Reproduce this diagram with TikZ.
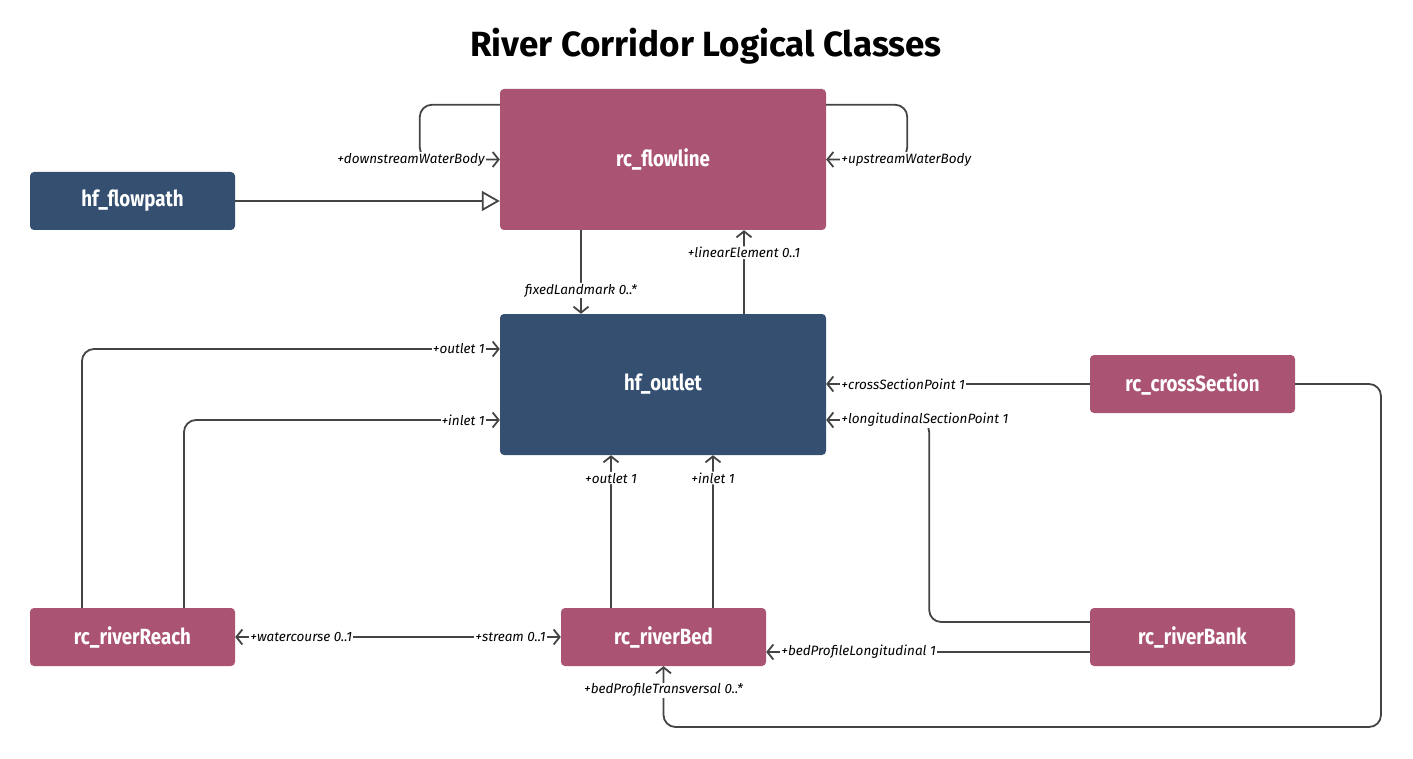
\documentclass[tikz,border=0pt]{standalone}
\usepackage{fontspec}
\setmainfont{Fira Sans}
\newfontfamily\boxfont[FakeStretch=0.85]{Fira Sans}
\newfontfamily\lblfont{Fira Sans}
\newfontfamily\titlefont{Fira Sans}
\usetikzlibrary{arrows.meta}
\definecolor{pinkc}{HTML}{AA5373}
\definecolor{bluec}{HTML}{344F70}
\definecolor{linec}{HTML}{444444}
\begin{document}
\begin{tikzpicture}[x=1pt,y=-1pt,
  cls/.style={rounded corners=4pt, inner sep=0pt, text=white, font=\boxfont\bfseries\fontsize{22}{26}\selectfont},
  pinkcls/.style={cls, fill=pinkc},
  bluecls/.style={cls, fill=bluec},
  bigbox/.style={minimum width=326pt, minimum height=141pt},
  smallbox/.style={minimum width=205pt, minimum height=58pt},
  conn/.style={draw=linec, line width=1.8pt, rounded corners=12pt},
  arr/.style={-{Straight Barb[length=6pt,width=15pt]}},
  lbl/.style={fill=white, inner sep=1pt, text=black, font=\lblfont\itshape\fontsize{13.5}{16}\selectfont}
]
\useasboundingbox (0,0) rectangle (1413,759);
\node[font=\titlefont\bfseries\fontsize{35}{40}\selectfont] (title) at (706,46) {River Corridor Logical Classes};

\node[pinkcls, bigbox] (flowline) at (663,159.5) {rc\_flowline};
\node[bluecls, smallbox] (flowpath) at (132.5,201) {hf\_flowpath};
\node[bluecls, bigbox] (outlet) at (663,384.5) {hf\_outlet};
\node[pinkcls, smallbox] (crossSection) at (1192.5,384) {rc\_crossSection};
\node[pinkcls, smallbox] (riverReach) at (132.5,637) {rc\_riverReach};
\node[pinkcls, smallbox] (riverBed) at (663.5,637) {rc\_riverBed};
\node[pinkcls, smallbox] (riverBank) at (1192.5,637) {rc\_riverBank};

% self associations of rc_flowline
\draw[conn,arr] ([yshift=-16pt]flowline.north west) -| ([xshift=-80pt]flowline.west) -- (flowline.west);
\node[lbl, anchor=east] (l1) at ([xshift=-14pt]flowline.west) {+downstreamWaterBody};
\draw[conn,arr] ([yshift=-16pt]flowline.north east) -| ([xshift=81pt]flowline.east) -- (flowline.east);
\node[lbl, anchor=west] (l2) at ([xshift=14pt]flowline.east) {+upstreamWaterBody};

% generalization
\draw[conn, -{Triangle[open, length=18pt, width=20pt, fill=white]}] (flowpath.east) -- (flowpath.east -| flowline.west);

% flowline <-> outlet
\draw[conn,arr] ([xshift=-82pt]flowline.south) -- node[lbl, pos=0.72] (l3) {fixedLandmark 0..*} ([xshift=-82pt]outlet.north);
\draw[conn,arr] ([xshift=81pt]outlet.north) -- node[lbl, pos=0.73] (l4) {+linearElement 0..1} ([xshift=81pt]flowline.south);

% riverReach -> outlet
\draw[conn,arr] ([xshift=-50.5pt]riverReach.north) |- ([yshift=35.5pt]outlet.west);
\node[lbl, anchor=east] (l5) at ([xshift=-14pt,yshift=35.5pt]outlet.west) {+outlet 1};
\draw[conn,arr] ([xshift=51.5pt]riverReach.north) |- ([yshift=-35.5pt]outlet.west);
\node[lbl, anchor=east] (l6) at ([xshift=-14pt,yshift=-35.5pt]outlet.west) {+inlet 1};

% riverBed -> outlet
\draw[conn,arr] ([xshift=-52.5pt]riverBed.north) -- node[lbl, pos=0.85] (l7) {+outlet 1} ([xshift=-52pt]outlet.south);
\draw[conn,arr] ([xshift=49.5pt]riverBed.north) -- node[lbl, pos=0.85] (l8) {+inlet 1} ([xshift=50pt]outlet.south);

% crossSection -> outlet
\draw[conn,arr] (crossSection.west) -- (crossSection.west -| outlet.east);
\node[lbl, anchor=west] (l9) at ([xshift=14pt]crossSection.west -| outlet.east) {+crossSectionPoint 1};

% riverBank -> outlet
\draw[conn,arr] ([yshift=15pt]riverBank.west) -| ([xshift=103pt,yshift=-35.5pt]outlet.east) -- ([yshift=-35.5pt]outlet.east);
\node[lbl, anchor=west] (l10) at ([xshift=14pt,yshift=-35.5pt]outlet.east) {+longitudinalSectionPoint 1};

% riverBank -> riverBed
\draw[conn,arr] ([yshift=-15pt]riverBank.west) -- ([yshift=-15pt]riverBed.east);
\node[lbl, anchor=west] (l11) at ([xshift=14pt,yshift=-15pt]riverBed.east) {+bedProfileLongitudinal 1};

% crossSection -> riverBed
\coordinate (tr) at (1381,727);
\draw[conn,arr] (crossSection.east) -| (tr) -| (riverBed.south);
\node[lbl] (l12) at ([yshift=-24pt]riverBed.south) {+bedProfileTransversal 0..*};

% riverReach <-> riverBed
\draw[conn, {Straight Barb[length=6pt,width=15pt]}-{Straight Barb[length=6pt,width=15pt]}] (riverReach.east) -- (riverBed.west);
\node[lbl, anchor=west] (l13) at ([xshift=14pt]riverReach.east) {+watercourse 0..1};
\node[lbl, anchor=east] (l14) at ([xshift=-14pt]riverBed.west) {+stream 0..1};
\end{tikzpicture}
\end{document}
